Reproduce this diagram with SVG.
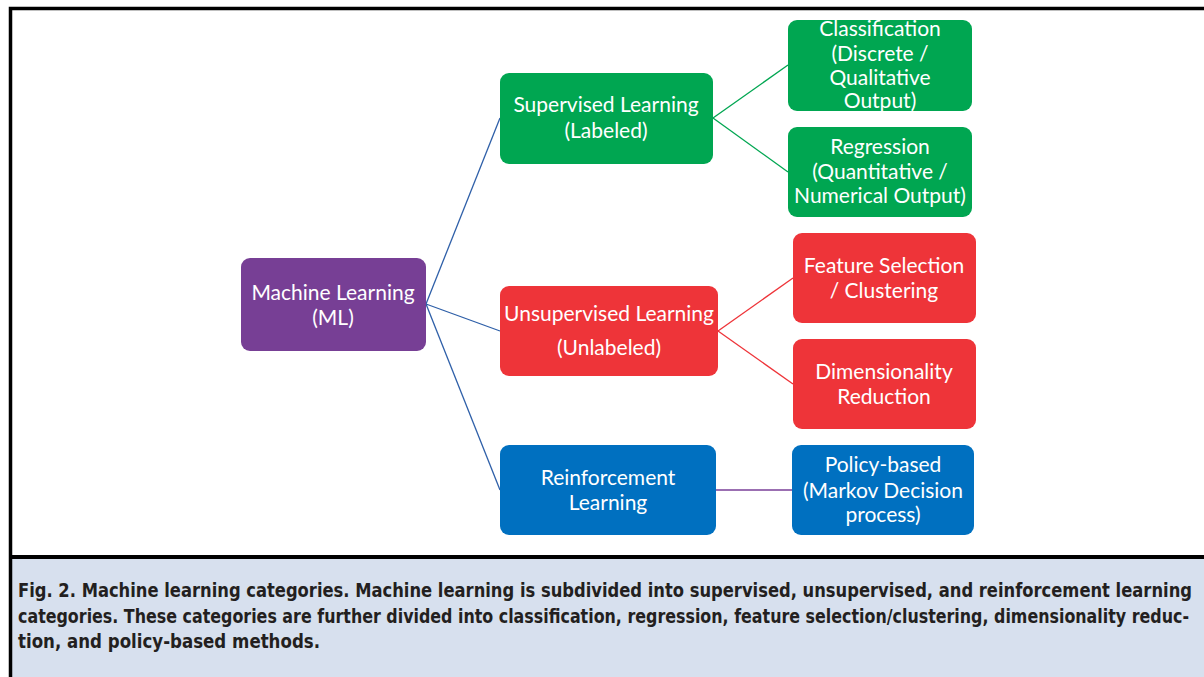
<svg xmlns="http://www.w3.org/2000/svg" width="1204" height="677" viewBox="0 0 1204 677">
<style>
.n text{font-family:Lato,"Open Sans",sans-serif;font-size:21px;fill:#ffffff;text-anchor:middle}
.cap{font-family:"DejaVu Sans Condensed","DejaVu Sans",sans-serif;font-stretch:condensed;font-weight:bold;font-size:20px;fill:#231f20}
.c line{fill:none;stroke-width:1.3}
</style>
<rect x="0" y="0" width="1204" height="677" fill="#ffffff"/>
<rect x="10.5" y="557" width="1200" height="125" fill="#d7e0ee"/>
<path d="M10.5 677 V8.5 H1204" fill="none" stroke="#000" stroke-width="3.5"/>
<line x1="10" y1="557" x2="1204" y2="557" stroke="#000" stroke-width="4"/>
<g class="c">
<line x1="426" y1="304" x2="500" y2="118" stroke="#2e5fa8"/>
<line x1="426" y1="304" x2="500" y2="331" stroke="#2e5fa8"/>
<line x1="426" y1="304" x2="500" y2="490" stroke="#2e5fa8"/>
<line x1="713" y1="118" x2="788" y2="65" stroke="#00a651"/>
<line x1="713" y1="118" x2="788" y2="172" stroke="#00a651"/>
<line x1="718" y1="331" x2="793" y2="278" stroke="#ee3439"/>
<line x1="718" y1="331" x2="793" y2="384" stroke="#ee3439"/>
<line x1="716" y1="490" x2="792" y2="490" stroke="#7a3f98"/>
</g>
<g id="ml" class="n"><rect x="241" y="258" width="185" height="93" rx="9" fill="#773f95"/><text x="333" y="300">Machine Learning</text><text x="333" y="325">(ML)</text></g>
<g id="sup" class="n"><rect x="500" y="73" width="213" height="91" rx="9" fill="#00a651"/><text x="606" y="112">Supervised Learning</text><text x="606" y="138">(Labeled)</text></g>
<g id="cls" class="n"><rect x="788" y="20" width="184" height="91" rx="9" fill="#00a651"/><text x="880" y="36">Classification</text><text x="880" y="61">(Discrete /</text><text x="880" y="85">Qualitative</text><text x="880" y="108">Output)</text></g>
<g id="reg" class="n"><rect x="788" y="127" width="184" height="90" rx="9" fill="#00a651"/><text x="880" y="154">Regression</text><text x="880" y="179">(Quantitative /</text><text x="880" y="203">Numerical Output)</text></g>
<g id="uns" class="n"><rect x="500" y="286" width="218" height="90" rx="9" fill="#ee3439"/><text x="609" y="321">Unsupervised Learning</text><text x="609" y="355">(Unlabeled)</text></g>
<g id="fs" class="n"><rect x="793" y="233" width="183" height="90" rx="9" fill="#ee3439"/><text x="884" y="273">Feature Selection</text><text x="884" y="298">/ Clustering</text></g>
<g id="dr" class="n"><rect x="793" y="339" width="183" height="90" rx="9" fill="#ee3439"/><text x="884" y="379">Dimensionality</text><text x="884" y="404">Reduction</text></g>
<g id="rl" class="n"><rect x="500" y="445" width="216" height="90" rx="9" fill="#0070c0"/><text x="608" y="485">Reinforcement</text><text x="608" y="510">Learning</text></g>
<g id="pol" class="n"><rect x="792" y="445" width="182" height="90" rx="9" fill="#0070c0"/><text x="883" y="472">Policy-based</text><text x="883" y="498">(Markov Decision</text><text x="883" y="522">process)</text></g>
<g id="caption">
<text class="cap" x="18" y="597" textLength="1174" lengthAdjust="spacingAndGlyphs"><tspan font-weight="900">Fig. 2.</tspan> Machine learning categories. Machine learning is subdivided into supervised, unsupervised, and reinforcement learning</text>
<text class="cap" x="18" y="623" textLength="1171" lengthAdjust="spacingAndGlyphs">categories. These categories are further divided into classification, regression, feature selection/clustering, dimensionality reduc-</text>
<text class="cap" x="18" y="648" textLength="302" lengthAdjust="spacingAndGlyphs">tion, and policy-based methods.</text>
</g>
</svg>
